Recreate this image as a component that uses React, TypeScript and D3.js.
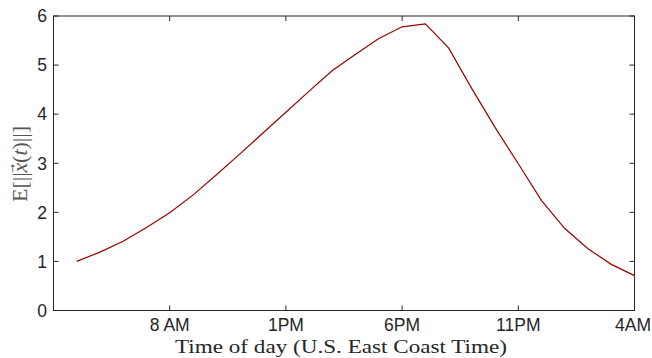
import React from "react";
import * as d3 from "d3";

// hours since midnight of day 1 (4 AM day 1 .. 4 AM day 2)
const hours = [4,5,6,7,8,9,10,11,12,13,14,15,16,17,18,19,20,21,22,23,24,25,26,27,28];
const values = [1.0,1.19,1.41,1.69,1.99,2.35,2.76,3.18,3.61,4.04,4.47,4.89,5.22,5.54,5.78,5.84,5.35,4.52,3.73,2.99,2.24,1.67,1.26,0.94,0.71];
const xTickHours = [8, 13, 18, 23, 28];
const xTickLabels = ["8 AM", "1PM", "6PM", "11PM", "4AM"];
const yTicks = [0, 1, 2, 3, 4, 5, 6];

const W = 652, H = 358;
const L = 53.5, R = 634.5, T = 16, B = 310.5;

export default function App() {
  const x = d3.scaleLinear().domain([3, 28]).range([L, R]);
  const y = d3.scaleLinear().domain([0, 6]).range([B, T]);
  const line = d3.line<number>().x((_, i) => x(hours[i])).y((d) => y(d));
  const axisColor = "#262626";
  const tick = 5;
  const sans = "Liberation Sans, Arial, sans-serif";
  const serif = "Liberation Serif, Times New Roman, serif";
  return (
    <svg width={W} height={H} style={{ position: "absolute", left: 0, top: 0, background: "#fff" }}>
      <rect x={0} y={0} width={W} height={H} fill="#fff" />
      <rect x={L} y={T} width={R - L} height={B - T} fill="none" stroke={axisColor} strokeWidth={1} />
      {xTickHours.map((h, i) => (
        <g key={"xt" + i}>
          <line x1={x(h)} x2={x(h)} y1={B} y2={B - tick} stroke={axisColor} />
          <line x1={x(h)} x2={x(h)} y1={T} y2={T + tick} stroke={axisColor} />
          <text x={Math.min(x(h), 633)} y={331} textAnchor="middle" fontFamily={sans} fontSize={17.5} fill={axisColor}>
            {xTickLabels[i]}
          </text>
        </g>
      ))}
      {yTicks.map((v) => (
        <g key={"yt" + v}>
          <line x1={L} x2={L + tick} y1={y(v)} y2={y(v)} stroke={axisColor} />
          <line x1={R} x2={R - tick} y1={y(v)} y2={y(v)} stroke={axisColor} />
          <text x={47} y={y(v)} dy="0.36em" textAnchor="end" fontFamily={sans} fontSize={17.5} fill={axisColor}>
            {v}
          </text>
        </g>
      ))}
      <path d={line(values) || ""} fill="none" stroke="#990000" strokeWidth={1.2} />
      <text x={175} y={352.5} textLength={332} lengthAdjust="spacingAndGlyphs" fontFamily={serif} fontSize={19} fill={axisColor}>
        Time of day (U.S. East Coast Time)
      </text>
      <text transform={`translate(27,164) rotate(-90)`} textAnchor="middle" fontFamily={serif} fontSize={22} fill="#555">
        E[||<tspan fontStyle="italic">x</tspan>
        <tspan dx={-9.8} dy={-11.5} fontSize={10} fontFamily="DejaVu Sans, sans-serif">→</tspan>
        <tspan dx={1.2} dy={11.5}>(</tspan>
        <tspan fontStyle="italic">t</tspan>)||]
      </text>
    </svg>
  );
}
